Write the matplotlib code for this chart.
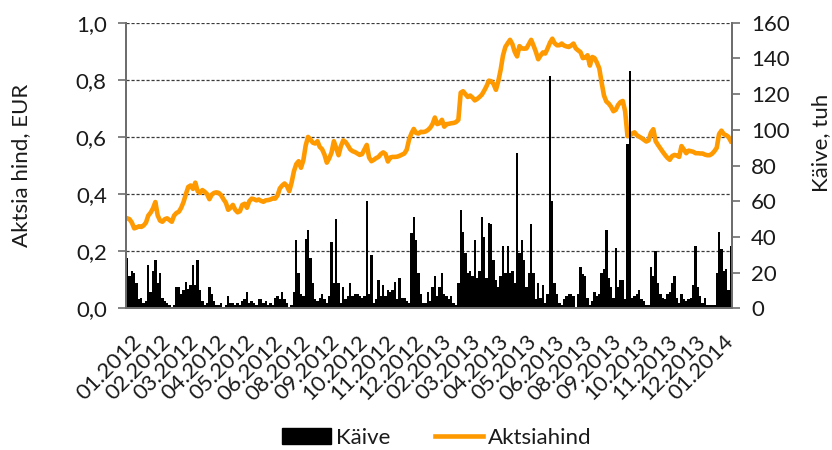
import matplotlib
matplotlib.use("Agg")
import matplotlib.pyplot as plt
import numpy as np
from matplotlib.lines import Line2D
from matplotlib.patches import Patch

# Aktsia hind (EUR), loetud graafikult umbes iga 2 kauplemispäeva kohta
price = [
    0.315, 0.312, 0.300, 0.280, 0.283, 0.287, 0.285, 0.290, 0.300, 0.325,
    0.335, 0.350, 0.372, 0.325, 0.307, 0.303, 0.312, 0.315, 0.309, 0.303,
    0.325, 0.334, 0.338, 0.352, 0.372, 0.400, 0.425, 0.430, 0.418, 0.440,
    0.410, 0.404, 0.414, 0.408, 0.400, 0.382, 0.398, 0.404, 0.406, 0.404,
    0.396, 0.382, 0.370, 0.345, 0.352, 0.362, 0.345, 0.336, 0.340, 0.362,
    0.366, 0.352, 0.375, 0.384, 0.382, 0.378, 0.381, 0.376, 0.373, 0.378,
    0.379, 0.381, 0.385, 0.384, 0.395, 0.420,
    0.430, 0.437, 0.428, 0.410, 0.440, 0.480, 0.505, 0.515, 0.492, 0.518,
    0.570, 0.600, 0.592, 0.580, 0.577, 0.585, 0.565, 0.557, 0.538, 0.510,
    0.525, 0.545, 0.585, 0.560, 0.536, 0.568, 0.588, 0.582, 0.570, 0.556,
    0.550, 0.547, 0.542, 0.537, 0.540, 0.556, 0.572, 0.528, 0.515, 0.520,
    0.526, 0.530, 0.540, 0.546, 0.540, 0.514, 0.528, 0.530, 0.530, 0.531,
    0.534, 0.538, 0.542, 0.555, 0.590, 0.612, 0.628, 0.614, 0.612, 0.618,
    0.617, 0.619, 0.624, 0.632, 0.645,
    0.668, 0.645, 0.648, 0.660, 0.636, 0.645, 0.646, 0.648, 0.649, 0.652,
    0.660, 0.755, 0.760, 0.750, 0.740, 0.745, 0.738, 0.728, 0.733, 0.740,
    0.748, 0.762, 0.778, 0.797, 0.795, 0.785, 0.765, 0.795, 0.835, 0.885,
    0.915, 0.928, 0.940, 0.925, 0.898, 0.882, 0.918, 0.910, 0.909, 0.910,
    0.925, 0.940, 0.920, 0.898, 0.872, 0.885, 0.896, 0.892, 0.910, 0.930,
    0.944, 0.928, 0.921, 0.921, 0.927, 0.920, 0.917, 0.915, 0.920, 0.927,
    0.910, 0.903, 0.897,
    0.876, 0.878, 0.886, 0.850, 0.880, 0.876, 0.860, 0.840, 0.790, 0.745,
    0.724, 0.717, 0.706, 0.690, 0.695, 0.712, 0.722, 0.726, 0.690, 0.603,
    0.605, 0.612, 0.616, 0.606, 0.601, 0.596, 0.590, 0.584, 0.588, 0.615,
    0.627, 0.585, 0.572, 0.560, 0.548, 0.537, 0.527, 0.520, 0.533, 0.537,
    0.535, 0.530, 0.568, 0.556, 0.543, 0.552, 0.550, 0.548, 0.543, 0.543,
    0.542, 0.542, 0.538, 0.536, 0.536, 0.541, 0.550, 0.562, 0.610, 0.622,
    0.610, 0.606, 0.600, 0.585,
]

# Käive (tuh EUR)
volume = [
    28, 18, 21, 20, 14, 5, 6, 3, 4, 24,
    9, 21, 27, 14, 20, 6, 4, 3, 2, 1,
    2, 12, 12, 8, 10, 15, 11, 13, 24, 13,
    27, 10, 4, 2, 3, 12, 8, 4, 2, 2,
    3, 1, 2, 7, 3, 3, 2, 3, 2, 4,
    5, 9, 3, 4, 3, 2, 5, 5, 3, 4,
    2, 3, 2, 6, 7, 5,
    9, 5, 3, 1, 2, 9, 38, 20, 8, 7,
    39, 44, 28, 14, 5, 4, 6, 8, 5, 3,
    7, 37, 14, 50, 14, 3, 12, 5, 7, 14,
    7, 8, 8, 7, 6, 7, 60, 8, 30, 3,
    5, 16, 7, 13, 7, 10, 9, 10, 15, 5,
    17, 6, 6, 4, 3, 42, 51, 38, 20, 8,
    3, 3, 9, 4, 12,
    18, 7, 12, 20, 8, 7, 5, 7, 3, 2,
    14, 55, 43, 31, 20, 21, 18, 38, 17, 21,
    51, 40, 17, 48, 47, 27, 16, 12, 18, 35,
    20, 35, 20, 21, 14, 87, 31, 38, 27, 12,
    20, 47, 20, 5, 14, 6, 13, 3, 8, 130,
    60, 14, 8, 3, 2, 5, 7, 8, 8, 7,
    1, 8, 23,
    19, 18, 6, 2, 4, 9, 7, 8, 20, 22,
    44, 17, 12, 6, 34, 12, 16, 16, 5, 92,
    133, 6, 7, 8, 10, 5, 4, 2, 2, 23,
    18, 32, 14, 8, 6, 5, 8, 9, 14, 18,
    6, 3, 8, 5, 4, 5, 6, 13, 35, 12,
    7, 3, 6, 2, 2, 2, 2, 20, 43, 33,
    21, 22, 10, 35,
]

month_labels = [
    "01.2012", "02.2012", "03.2012", "04.2012", "05.2012", "06.2012",
    "08.2012", "09.2012", "10.2012", "11.2012", "12.2012", "02.2013",
    "03.2013", "04.2013", "05.2013", "06.2013", "08.2013", "09.2013",
    "10.2013", "11.2013", "12.2013", "01.2014",
]
label_start = 5
label_step = 12

left_ticks = [0.0, 0.2, 0.4, 0.6, 0.8, 1.0]
left_tick_labels = ["0,0", "0,2", "0,4", "0,6", "0,8", "1,0"]
right_ticks = [0, 20, 40, 60, 80, 100, 120, 140, 160]

ORANGE = "#FF9900"
TEXT = "#1a1a1a"
AXIS = "#6e6e6e"
FS = 16

plt.rcParams['font.family'] = ['Lato', 'DejaVu Sans']

W, H = 832, 450
fig = plt.figure(figsize=(W / 100, H / 100), dpi=100)
x0, x1, y_top, y_bot = 126, 732, 22.7, 308.3
ax = fig.add_axes([x0 / W, 1 - y_bot / H, (x1 - x0) / W, (y_bot - y_top) / H])
ax2 = ax.twinx()

x = np.arange(len(price))
ax.plot(x, price, color=ORANGE, lw=3.3, solid_joinstyle='round', zorder=2)
bars = ax2.bar(x, volume, width=1.0, color='black', linewidth=0)

ax.set_xlim(-0.5, len(price) - 0.5)
ax.set_ylim(0, 1)
ax2.set_ylim(0, 160)

ax.set_yticks(left_ticks)
ax.set_yticklabels(left_tick_labels)
ax2.set_yticks(right_ticks)

tick_pos = [label_start + label_step * i for i in range(len(month_labels))]
ax.set_xticks(tick_pos)
ax.set_xticklabels(month_labels)
ax.tick_params(axis='x', length=0, pad=22, labelsize=FS, labelcolor=TEXT)
for lbl in ax.get_xticklabels():
    lbl.set_rotation(45)
    lbl.set_ha('right')
    lbl.set_va('center')
    lbl.set_rotation_mode('anchor')

ax.tick_params(axis='y', direction='out', length=5.8, width=1.2, color=AXIS,
               pad=8, labelsize=FS, labelcolor=TEXT)
ax2.tick_params(axis='y', direction='out', length=5.8, width=1.2, color=AXIS,
                pad=8, labelsize=FS, labelcolor=TEXT)
ax2.tick_params(axis='x', length=0)

ax.yaxis.grid(True, linestyle=(0, (2.5, 1.5)), color='#3a3a3a', lw=0.9)
ax.set_axisbelow(True)

for a in (ax, ax2):
    a.spines['top'].set_visible(False)
    for s in ('left', 'right', 'bottom'):
        a.spines[s].set_color(AXIS)
        a.spines[s].set_linewidth(1.4)

fig.text(21 / W, 1 - 165 / H, "Aktsia hind, EUR", rotation=90, ha='center',
         va='center', fontsize=FS, color=TEXT)
fig.text(821 / W, 1 - 143 / H, "Käive, tuh", rotation=90, ha='center',
         va='center', fontsize=FS, color=TEXT)

handles = [Patch(facecolor='black', edgecolor='black'),
           Line2D([], [], color=ORANGE, lw=3.3)]
fig.legend(handles, ["Käive", "Aktsiahind"], loc='center',
           bbox_to_anchor=(437 / W, 1 - 438 / H), ncol=2, frameon=False,
           fontsize=FS, handlelength=2.2, handleheight=0.7,
           handletextpad=0.2, columnspacing=2.0, labelcolor=TEXT)

fig.savefig("out.png", dpi=100)
